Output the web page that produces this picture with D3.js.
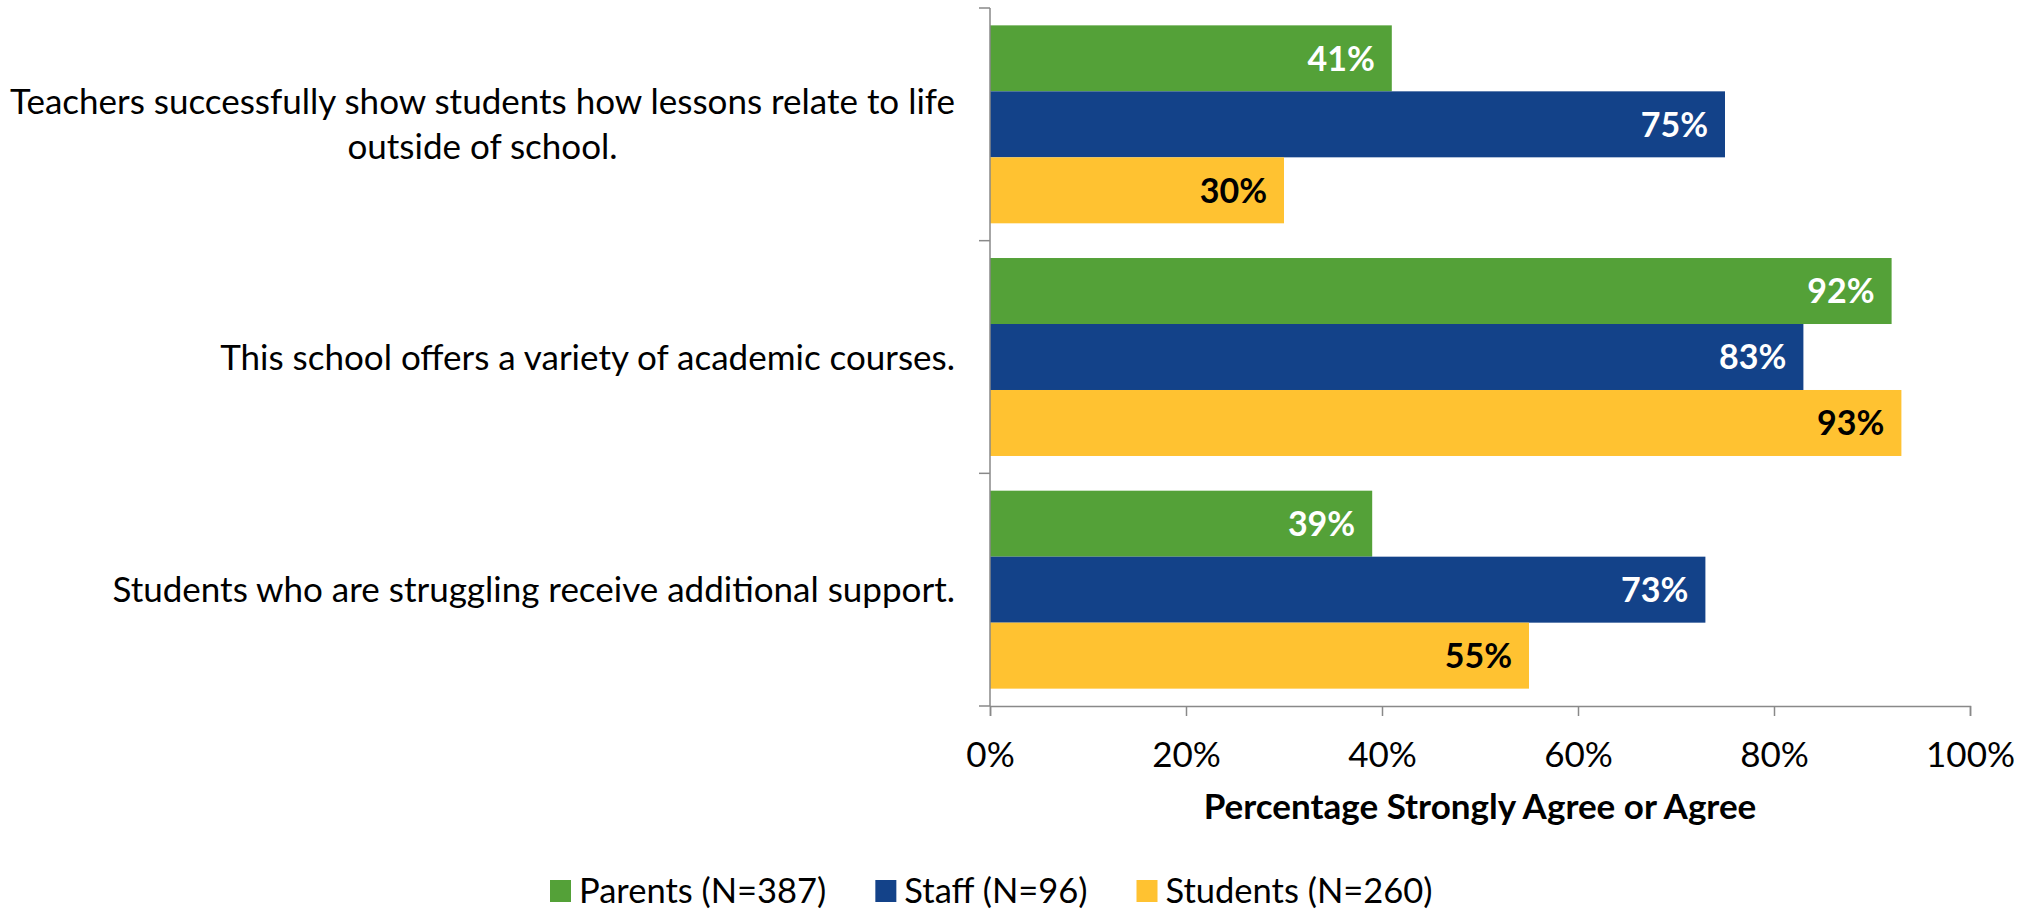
<!DOCTYPE html>
<html>
<head>
<meta charset="utf-8">
<script src="https://cdn.jsdelivr.net/npm/d3@7"></script>
<style>
  body { margin: 0; background: #fff; }
  text { font-family: Lato, "Open Sans", sans-serif; }
</style>
</head>
<body>
<script>
var width = 2030,
    height = 909;

// data
var questions = [
  ["Teachers successfully show students how lessons relate to life", "outside of school."],
  ["This school offers a variety of academic courses."],
  ["Students who are struggling receive additional support."]
];
var groups = ["Parents (N=387)", "Staff (N=96)", "Students (N=260)"];
var parents = [41, 92, 39];
var staff = [75, 83, 73];
var students = [30, 93, 55];
var xTicks = [0, 20, 40, 60, 80, 100];

var colors = ["#54a138", "#134289", "#ffc231"];
var labelColors = ["#fff", "#fff", "#000"];
var seriesValues = [parents, staff, students];

var svg = d3.select("body").append("svg")
    .attr("width", width)
    .attr("height", height);

var x = d3.scaleLinear()
    .domain([0, 100])
    .range([990, 1970]);

var y = d3.scaleBand()
    .domain(d3.range(questions.length))
    .range([8, 706])
    .padding(0);

var ySub = d3.scaleBand()
    .domain(d3.range(groups.length))
    .range([0, y.bandwidth()])
    .paddingInner(0)
    .paddingOuter(0.263);

// bars
var g = svg.append("g");
groups.forEach(function(name, s) {
  var vals = seriesValues[s];
  g.selectAll(".bar-" + s)
    .data(vals)
    .enter().append("rect")
    .attr("class", "bar-" + s)
    .attr("x", x(0))
    .attr("y", function(d, i) { return y(i) + ySub(s); })
    .attr("width", function(d) { return x(d) - x(0); })
    .attr("height", ySub.bandwidth())
    .attr("fill", colors[s]);

  g.selectAll(".lbl-" + s)
    .data(vals)
    .enter().append("text")
    .attr("class", "lbl-" + s)
    .attr("x", function(d) { return x(d) - 17; })
    .attr("y", function(d, i) { return y(i) + ySub(s) + ySub.bandwidth() / 2; })
    .attr("dy", "0.36em")
    .attr("text-anchor", "end")
    .attr("font-size", 34)
    .attr("font-weight", "bold")
    .attr("fill", labelColors[s])
    .text(function(d) { return d + "%"; });
});

// x axis
var xAxis = svg.append("g")
    .attr("transform", "translate(0," + 706 + ")")
    .call(d3.axisBottom(x).tickValues(xTicks).tickSize(10).tickPadding(26)
      .tickFormat(function(d) { return d + "%"; }));
xAxis.select(".domain").attr("stroke", "#898989").attr("stroke-width", 1.5);
xAxis.selectAll(".tick line").attr("stroke", "#898989").attr("stroke-width", 1.5);
xAxis.selectAll(".tick text")
    .attr("font-size", 35)
    .attr("font-family", "Lato, sans-serif")
    .attr("fill", "#000");

// y axis, ticks on the category boundaries
var yEdges = d3.range(questions.length).map(function(i) { return y(i); })
    .concat([y(questions.length - 1) + y.bandwidth()]);
svg.append("line")
    .attr("x1", x(0)).attr("x2", x(0))
    .attr("y1", yEdges[0]).attr("y2", yEdges[yEdges.length - 1])
    .attr("stroke", "#898989").attr("stroke-width", 1.5);
svg.selectAll(".ytick")
    .data(yEdges)
    .enter().append("line")
    .attr("class", "ytick")
    .attr("x1", x(0) - 11).attr("x2", x(0))
    .attr("y1", function(d) { return d; })
    .attr("y2", function(d) { return d; })
    .attr("stroke", "#898989").attr("stroke-width", 1.5);

// category labels
var lineH = 45;
svg.selectAll(".cat")
    .data(questions)
    .enter().append("text")
    .attr("class", "cat")
    .attr("text-anchor", "middle")
    .attr("font-size", 35)
    .attr("fill", "#000")
    .each(function(lines, i) {
      var t = d3.select(this);
      var cy = y(i) + y.bandwidth() / 2 - (lines.length - 1) * lineH / 2;
      lines.forEach(function(l, j) {
        t.append("tspan")
          .attr("y", cy + j * lineH)
          .attr("dy", "0.36em")
          .text(l);
      });
    });
// right-align the block, centre each line inside it like Excel does
svg.selectAll(".cat").each(function() {
  var t = d3.select(this);
  var w = d3.max(t.selectAll("tspan").nodes(), function(n) { return n.getComputedTextLength(); });
  t.selectAll("tspan").attr("x", 955 - w / 2);
});

// axis title
svg.append("text")
    .attr("x", (x(0) + x(100)) / 2)
    .attr("y", 806)
    .attr("dy", "0.36em")
    .attr("text-anchor", "middle")
    .attr("font-size", 35)
    .attr("font-weight", "bold")
    .text("Percentage Strongly Agree or Agree");

// legend
var legend = svg.append("g");
var lx = 550;
groups.forEach(function(name, s) {
  legend.append("rect")
    .attr("x", lx).attr("y", 880)
    .attr("width", 21).attr("height", 22)
    .attr("fill", colors[s]);
  var t = legend.append("text")
    .attr("x", lx + 29)
    .attr("y", 891)
    .attr("dy", "0.36em")
    .attr("font-size", 34.5)
    .text(name);
  lx += 29 + t.node().getComputedTextLength() + 49;
});
</script>
</body>
</html>
